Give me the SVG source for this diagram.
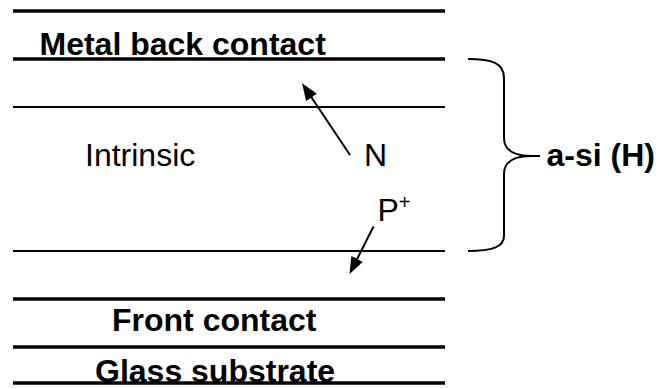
<svg xmlns="http://www.w3.org/2000/svg" width="659" height="389" viewBox="0 0 659 389">
<style>
  text { font-family: "Liberation Sans", Arial, sans-serif; font-size: 32px; fill: #000; }
  .b { font-weight: bold; }
  .thick { stroke: #000; stroke-width: 3.5; }
  .thin { stroke: #000; stroke-width: 2; }
  .arrow { stroke: #000; stroke-width: 2; fill: none; marker-end: url(#ah); }
  .brace { stroke: #000; stroke-width: 2; fill: none; }
</style>
<defs>
  <marker id="ah" markerUnits="userSpaceOnUse" markerWidth="18" markerHeight="14" refX="6" refY="6.5" orient="auto">
    <path d="M0,0 L17,6.5 L0,13 z" fill="#000"/>
  </marker>
</defs>
<rect width="659" height="389" fill="#fff"/>
<g id="layers">
  <line class="thick" x1="13" y1="11" x2="445" y2="11"/>
  <line class="thick" x1="13" y1="59" x2="445" y2="59"/>
  <line class="thin" x1="13" y1="107" x2="445" y2="107"/>
  <line class="thin" x1="13" y1="251" x2="445" y2="251"/>
  <line class="thick" x1="13" y1="299" x2="445" y2="299"/>
  <line class="thick" x1="13" y1="347" x2="445" y2="347"/>
</g>
<g id="metal-back-contact"><text class="b" x="39.5" y="54.5">Metal back contact</text></g>
<g id="intrinsic"><text x="85" y="166">Intrinsic</text></g>
<g id="n-label"><text x="364" y="166">N</text></g>
<g id="p-label"><text x="377.5" y="221">P<tspan font-size="20" dy="-12">+</tspan></text></g>
<g id="front-contact"><text class="b" x="112" y="331">Front contact</text></g>
<g id="glass-substrate">
  <text class="b" x="95" y="382">Glass substrate</text>
  <line class="thick" x1="13" y1="383" x2="445" y2="383"/>
</g>
<g id="a-si"><text class="b" x="546.5" y="166">a-si (H)</text></g>
<g id="connectors">
  <line class="arrow" x1="350" y1="155" x2="308.2" y2="92.5"/>
  <line class="arrow" x1="373.5" y1="226.5" x2="354.5" y2="264.2"/>
  <path class="brace" d="M468,59 C492,59 504,63 504,78 L504,138 C504,150 514,156 531,156 L540,156 M531,156 C514,156 504,162 504,174 L504,236 C504,247 492,251 468,251"/>
</g>
</svg>
